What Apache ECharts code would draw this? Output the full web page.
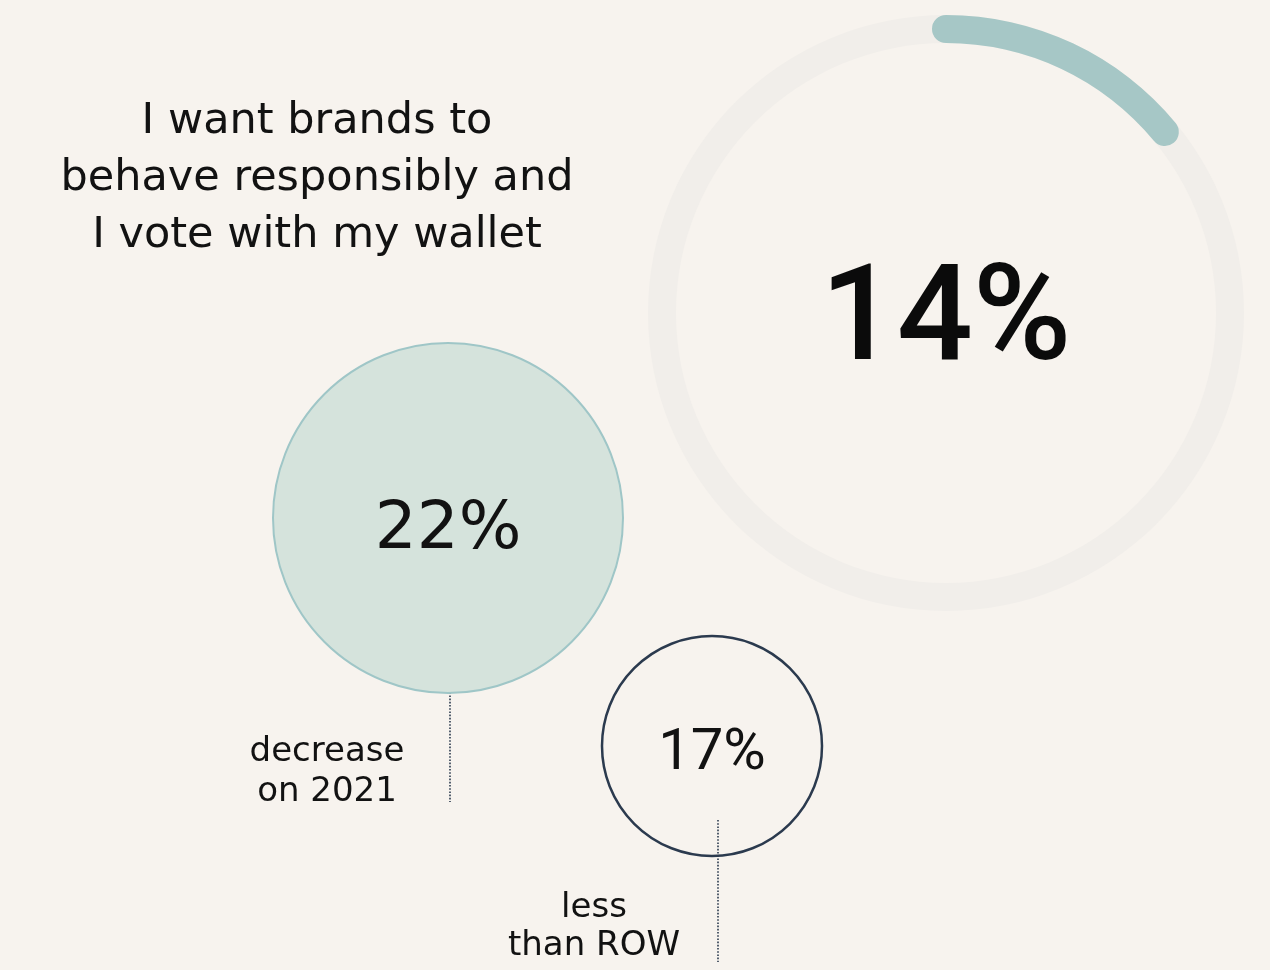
<!DOCTYPE html>
<html>
<head>
<meta charset="utf-8">
<title>I vote with my wallet</title>
<script src="https://cdn.jsdelivr.net/npm/echarts@6/dist/echarts.min.js"></script>
<style>
  html, body { margin: 0; padding: 0; background: #f7f3ee; }
  #chart { width: 1270px; height: 970px; }
</style>
</head>
<body>
<div id="chart"></div>
<script>
// Statement and figures
const headlineLines = ['I want brands to', 'behave responsibly and', 'I vote with my wallet'];
const shareValue = 14;            // share agreeing, shown on the ring
const changeValue = 22;           // change versus the previous year
const changeLabelLines = ['decrease', 'on 2021'];
const rowValue = 17;              // gap to rest of world
const rowLabelLines = ['less', 'than ROW'];

// Layout
const ring = { cx: 946, cy: 313, r: 298, width: 28 };
const bubbleChange = { cx: 448, cy: 518, r: 175 };
const bubbleRow = { cx: 712, cy: 746, r: 110 };

const ink = '#121212';
const navy = '#2b3a4e';
const teal = '#a6c7c6';
const sansWide = '"DejaVu Sans", sans-serif';
const sansTight = 'Roboto, "Liberation Sans", sans-serif';

const chart = echarts.init(document.getElementById('chart'), null, { renderer: 'canvas' });

chart.setOption({
  backgroundColor: '#f7f3ee',
  animation: false,
  series: [
    {
      type: 'gauge',
      center: [ring.cx, ring.cy],
      radius: ring.r,
      startAngle: 90,
      endAngle: -270,
      min: 0,
      max: 100,
      silent: true,
      progress: { show: true, width: ring.width, roundCap: true, itemStyle: { color: teal } },
      axisLine: { roundCap: false, lineStyle: { width: ring.width, color: [[1, '#f1eeea']] } },
      axisTick: { show: false },
      splitLine: { show: false },
      axisLabel: { show: false },
      pointer: { show: false },
      anchor: { show: false },
      title: { show: false },
      detail: {
        offsetCenter: [0, 12],
        formatter: '{value}%',
        fontFamily: sansTight,
        fontSize: 134,
        fontWeight: 500,
        color: '#0b0b0b'
      },
      data: [{ value: shareValue }]
    },
    {
      type: 'pie',
      center: [bubbleChange.cx, bubbleChange.cy],
      radius: [0, bubbleChange.r],
      silent: true,
      emphasis: { disabled: true },
      itemStyle: { color: '#d5e3dc', borderColor: '#9fc6c7', borderWidth: 2 },
      label: {
        show: true,
        position: 'center',
        formatter: '{c}%',
        fontFamily: sansWide,
        fontSize: 66,
        fontWeight: 400,
        color: ink,
        offset: [0, 13]
      },
      labelLine: { show: false },
      data: [{ value: changeValue, name: changeLabelLines.join(' ') }]
    },
    {
      type: 'pie',
      center: [bubbleRow.cx, bubbleRow.cy],
      radius: [0, bubbleRow.r],
      silent: true,
      emphasis: { disabled: true },
      itemStyle: { color: 'rgba(0,0,0,0)', borderColor: navy, borderWidth: 2.5 },
      label: {
        show: true,
        position: 'center',
        formatter: '{c}%',
        fontFamily: sansTight,
        fontSize: 58,
        fontWeight: 400,
        color: ink,
        offset: [0, 8]
      },
      labelLine: { show: false },
      data: [{ value: rowValue, name: rowLabelLines.join(' ') }]
    }
  ],
  graphic: [
    {
      type: 'text',
      x: 317, y: 179,
      style: {
        text: headlineLines.join('\n'),
        fontFamily: sansWide, fontSize: 43, lineHeight: 57,
        fill: ink, align: 'center', verticalAlign: 'middle'
      }
    },
    {
      type: 'line',
      shape: { x1: bubbleChange.cx + 2, y1: 657, x2: bubbleChange.cx + 2, y2: 802 },
      style: { stroke: navy, lineWidth: 1.6, lineDash: [1.6, 1.6] }
    },
    {
      type: 'text',
      x: 327, y: 772,
      style: {
        text: changeLabelLines.join('\n'),
        fontFamily: sansWide, fontSize: 34, lineHeight: 40,
        fill: ink, align: 'center', verticalAlign: 'middle'
      }
    },
    {
      type: 'line',
      shape: { x1: bubbleRow.cx + 6, y1: 820, x2: bubbleRow.cx + 6, y2: 962 },
      style: { stroke: navy, lineWidth: 1.6, lineDash: [1.6, 1.6] }
    },
    {
      type: 'text',
      x: 594, y: 927,
      style: {
        text: rowLabelLines.join('\n'),
        fontFamily: sansWide, fontSize: 34, lineHeight: 38,
        fill: ink, align: 'center', verticalAlign: 'middle'
      }
    }
  ]
});
</script>
</body>
</html>
